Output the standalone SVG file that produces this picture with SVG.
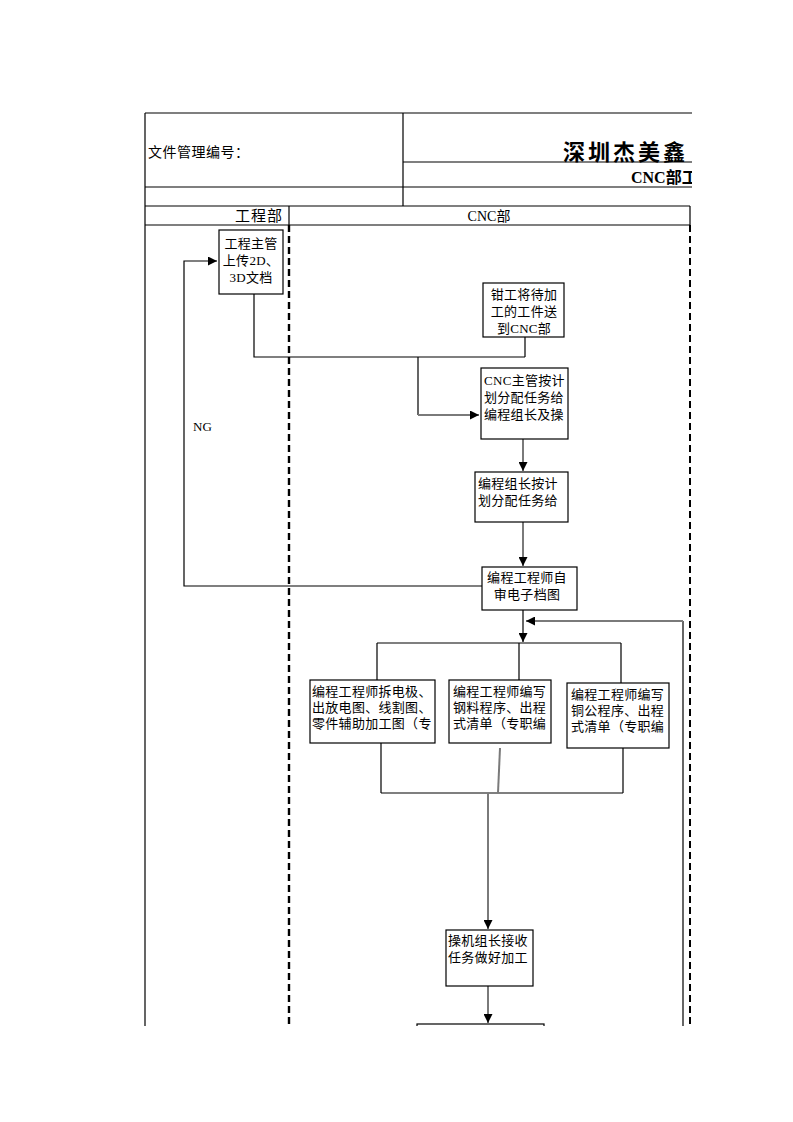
<svg xmlns="http://www.w3.org/2000/svg" width="793" height="1122" viewBox="0 0 793 1122">
<style>
text{font-family:"Liberation Serif","Noto Sans CJK SC",serif;fill:#000}
.t{font-size:13px;letter-spacing:0.3px}
.m{text-anchor:middle}
.box{fill:#fff;stroke:#000;stroke-width:1.2}
.ln{fill:none;stroke:#000;stroke-width:1.2}
.g{fill:none;stroke:#7a7a7a;stroke-width:2}
.dash{fill:none;stroke:#000;stroke-width:2.4;stroke-dasharray:7 4}
</style>
<defs>
<marker id="ah" viewBox="0 0 10 10" refX="10" refY="5" markerWidth="9" markerHeight="9" markerUnits="userSpaceOnUse" orient="auto">
<path d="M0,0 L10,5 L0,10 z" fill="#000"/>
</marker>
<clipPath id="page"><rect x="0" y="0" width="692" height="1026"/></clipPath>
</defs>
<rect width="793" height="1122" fill="#fff"/>
<g clip-path="url(#page)">
<g id="header">
<path class="ln" d="M145,113 H700 M403,113 V206 M403,162 H700 M145,187 H700 M145,206 H690 M145,225 H690 M289,206 V225 M690,206 V225 M145,113 V1030"/>
<text x="148" y="157" style="font-size:14px;letter-spacing:0.5px">文件管理编号：</text>
<text x="563" y="160" style="font-size:22px;font-weight:bold;letter-spacing:3px">深圳杰美鑫</text>
<text x="631" y="183" style="font-size:16px;font-weight:bold">CNC部工</text>
<text x="283" y="221" style="font-size:15px;text-anchor:end;letter-spacing:1px">工程部</text>
<text x="489" y="221" class="m" style="font-size:14px">CNC部</text>
</g>
<g id="lanes">
<path class="dash" d="M289,225 V1030"/>
<path class="dash" d="M690,225 V1030" style="stroke-width:2"/>
</g>
<g id="connectors">
<path class="ln" d="M254,294 V357 H525 M525,337 V357 M418,357 V415"/>
<path class="g" d="M418,415 H479" marker-end="url(#ah)"/>
<path class="g" d="M523,439 V471" marker-end="url(#ah)"/>
<path class="g" d="M523,522 V566" marker-end="url(#ah)"/>
<path class="ln" d="M482,586 H184 V261 H217" marker-end="url(#ah)"/>
<path class="ln" d="M523,610 V642" marker-end="url(#ah)"/>
<path class="ln" d="M683,1030 V621"/>
<path class="g" d="M683,621 H526" marker-end="url(#ah)"/>
<path class="ln" d="M377,643 H621 M377,643 V680 M519,643 V680 M621,643 V683"/>
<path class="ln" d="M381,743 V793 M623,748 V793 M381,793 H623"/>
<path class="g" d="M500,748 L498,793"/>
<path class="g" d="M488,793 V929" marker-end="url(#ah)"/>
<path class="g" d="M488,986 V1023" marker-end="url(#ah)"/>
<text x="193" y="431" style="font-size:13px">NG</text>
</g>
<g id="n1">
<rect class="box" x="219" y="230" width="64" height="64"/>
<text class="t m" x="251" y="248">工程主管</text>
<text class="t m" x="251" y="265">上传2D、</text>
<text class="t m" x="251" y="282">3D文档</text>
</g>
<g id="n2">
<rect class="box" x="483" y="283" width="81" height="54"/>
<text class="t m" x="524" y="299">钳工将待加</text>
<text class="t m" x="524" y="316">工的工件送</text>
<text class="t m" x="524" y="333">到CNC部</text>
</g>
<g id="n3">
<rect class="box" x="481" y="368" width="87" height="71"/>
<text class="t" x="484" y="385">CNC主管按计</text>
<text class="t" x="484" y="402">划分配任务给</text>
<text class="t" x="484" y="419">编程组长及操</text>
</g>
<g id="n4">
<rect class="box" x="475" y="472" width="93" height="50"/>
<text class="t" x="478" y="488">编程组长按计</text>
<text class="t" x="478" y="505">划分配任务给</text>
</g>
<g id="n5">
<rect class="box" x="482" y="567" width="95" height="43"/>
<text class="t m" x="527" y="582">编程工程师自</text>
<text class="t m" x="527" y="599">审电子档图</text>
</g>
<g id="n6">
<rect class="box" x="310" y="680" width="125" height="63"/>
<text class="t" x="312" y="696">编程工程师拆电极、</text>
<text class="t" x="312" y="712">出放电图、线割图、</text>
<text class="t" x="312" y="728">零件辅助加工图（专</text>
</g>
<g id="n7">
<rect class="box" x="449" y="680" width="102" height="63"/>
<text class="t" x="453" y="696">编程工程师编写</text>
<text class="t" x="453" y="712">钢料程序、出程</text>
<text class="t" x="453" y="728">式清单（专职编</text>
</g>
<g id="n8">
<rect class="box" x="567" y="683" width="102" height="65"/>
<text class="t" x="571" y="699">编程工程师编写</text>
<text class="t" x="571" y="715">铜公程序、出程</text>
<text class="t" x="571" y="731">式清单（专职编</text>
</g>
<g id="n9">
<rect class="box" x="446" y="930" width="87" height="56"/>
<text class="t" x="448" y="945">操机组长接收</text>
<text class="t" x="448" y="962">任务做好加工</text>
</g>
<g id="n10">
<rect class="box" x="417" y="1024" width="127" height="40"/>
</g>
</g>
</svg>
